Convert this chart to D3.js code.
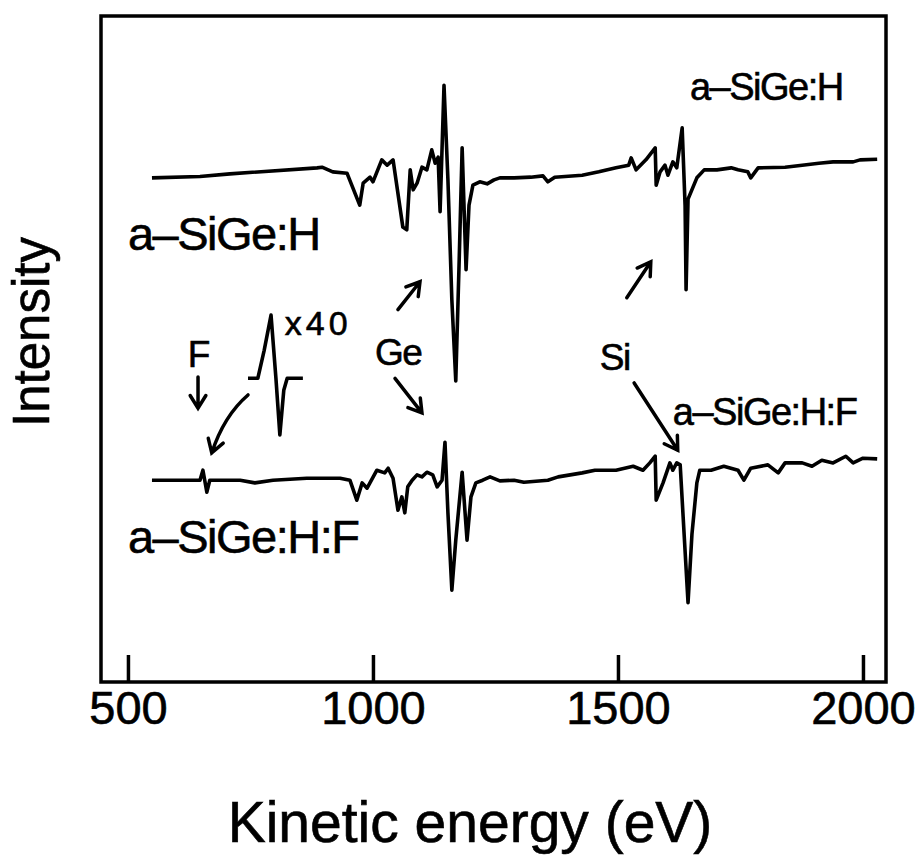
<!DOCTYPE html>
<html>
<head>
<meta charset="utf-8">
<script src="https://cdn.jsdelivr.net/npm/d3@7"></script>
<style>
    body { margin: 0; background: #fff; }
    svg text { font-family: "Liberation Sans", Arial, sans-serif; fill: #000; stroke: #000; stroke-width: 0.6px; }
</style>
</head>
<body>
<svg id="chart" width="920" height="857"></svg>
<script>
// a-SiGe:H trace, kinetic energy (eV) / intensity (a.u.)
let energy_h = [549, 647, 708, 886, 896, 918, 947, 973, 980, 994, 1000, 1018, 1029, 1041, 1061, 1069,
    1076, 1082, 1090, 1100, 1110, 1120, 1127, 1133, 1137, 1145, 1153, 1161, 1169, 1176, 1182, 1190,
    1196, 1204, 1218, 1233, 1247, 1259, 1288, 1322, 1347, 1357, 1371, 1427, 1461, 1496, 1522, 1527,
    1537, 1557, 1576, 1578, 1586, 1596, 1602, 1612, 1620, 1631, 1637, 1639, 1643, 1661, 1676, 1702,
    1731, 1745, 1765, 1771, 1786, 1841, 1876, 1910, 1939, 1980, 1994, 2029];
let intensity_h = [75.7, 75.9, 76.3, 77.2, 77.3, 76.6, 76.4, 71.6, 74.9, 75.8, 75.1, 78.4, 77.6, 78.4, 68.3, 67.9,
    76.9, 73.9, 74.9, 77.3, 76.9, 79.9, 77.9, 78.8, 70.6, 89.6, 75.4, 57.4, 45.2, 63.4, 80.2, 61.9,
    71.6, 74.6, 75.1, 74.8, 75.4, 75.7, 75.7, 75.8, 76.0, 75.1, 75.8, 76.1, 76.6, 77.2, 77.6, 78.7,
    76.9, 78.4, 80.2, 74.6, 76.6, 77.6, 76.1, 78.1, 77.2, 83.2, 71.5, 58.9, 72.5, 75.7, 76.9, 76.9,
    77.2, 76.9, 76.6, 75.7, 77.2, 77.3, 77.6, 77.9, 78.1, 78.1, 78.4, 78.5];
// a-SiGe:H:F trace
let energy_hf = [549, 647, 653, 661, 667, 729, 759, 796, 865, 933, 953, 967, 978, 988, 1008, 1024,
    1031, 1041, 1051, 1059, 1065, 1071, 1080, 1090, 1100, 1110, 1122, 1131, 1141, 1147, 1153, 1161,
    1169, 1182, 1192, 1200, 1210, 1224, 1239, 1259, 1288, 1308, 1357, 1378, 1427, 1453, 1496, 1531,
    1551, 1565, 1576, 1578, 1592, 1606, 1612, 1620, 1627, 1633, 1643, 1651, 1661, 1667, 1690, 1716,
    1745, 1757, 1771, 1806, 1827, 1841, 1876, 1896, 1916, 1939, 1965, 1980, 2000, 2029];
let intensity_hf = [30.3, 30.3, 31.8, 28.5, 30.3, 30.3, 29.9, 30.3, 30.6, 30.6, 30.3, 27.3, 29.9, 29.1, 31.8, 31.4,
    32.1, 30.6, 25.8, 27.8, 25.4, 29.3, 30.3, 31.1, 30.8, 31.5, 31.1, 29.3, 30.3, 36.0, 25.4, 13.8,
    21.3, 31.5, 21.3, 27.8, 29.9, 30.3, 30.8, 30.2, 30.3, 30.0, 30.3, 30.8, 31.4, 31.8, 31.8, 32.4,
    31.8, 32.9, 33.9, 27.3, 29.9, 32.9, 31.8, 32.9, 32.6, 24.8, 11.9, 22.2, 29.9, 31.8, 31.8, 32.4,
    31.8, 30.3, 32.1, 32.6, 31.4, 32.9, 32.9, 32.4, 33.3, 32.9, 33.9, 32.9, 33.6, 33.5];
// F signal magnified x40 (drawn in the empty space above the trace)
let inset_energy = [745, 765, 778, 792, 802, 810, 818, 825, 857];
let inset_intensity = [45.6, 45.6, 49.8, 55.1, 45.6, 37.1, 43.8, 45.6, 45.6];
let x_ticks = [500, 1000, 1500, 2000];

const frame = {left: 101, right: 886, top: 16, bottom: 682};

let svg = d3.select('svg#chart');

let x = d3.scaleLinear().domain([445, 2047]).range([frame.left, frame.right]);
let y = d3.scaleLinear().domain([0, 100]).range([frame.bottom, frame.top]);

let line = d3.line()
    .x(d => x(d[0]))
    .y(d => y(d[1]));

// frame
svg.append('rect')
    .attr('x', frame.left)
    .attr('y', frame.top)
    .attr('width', frame.right - frame.left)
    .attr('height', frame.bottom - frame.top)
    .style('fill', 'none')
    .style('stroke', '#000')
    .style('stroke-width', 3.5);

// bottom axis, ticks point inside
let xAxis = svg.append('g')
    .attr('transform', 'translate(0,' + frame.bottom + ')')
    .call(d3.axisBottom(x).tickValues(x_ticks).tickSize(-27).tickPadding(9).tickFormat(d3.format('d')));
xAxis.select('.domain').remove();
xAxis.selectAll('line').style('stroke', '#000').style('stroke-width', 3.5);
xAxis.selectAll('text')
    .style('font-size', '47px')
    .style('font-family', '"Liberation Sans", Arial, sans-serif')
    .style('stroke', '#000')
    .style('stroke-width', '0.6px');

svg.append('text')
    .attr('x', 470)
    .attr('y', 842)
    .attr('text-anchor', 'middle')
    .style('font-size', '57px')
    .text('Kinetic energy (eV)');

svg.append('text')
    .attr('transform', 'translate(49,332) rotate(-90)')
    .attr('text-anchor', 'middle')
    .style('font-size', '51px')
    .text('Intensity');

// spectra
let traces = [
    d3.zip(energy_h, intensity_h),
    d3.zip(energy_hf, intensity_hf),
    d3.zip(inset_energy, inset_intensity)
];
svg.append('g')
    .selectAll('path')
    .data(traces)
    .enter()
    .append('path')
    .attr('d', line)
    .style('fill', 'none')
    .style('stroke', '#000')
    .style('stroke-width', 3.6)
    .style('stroke-linejoin', 'round');

// arrows
let notes = svg.append('g')
    .style('fill', 'none')
    .style('stroke', '#000')
    .style('stroke-width', 3.5)
    .style('stroke-linecap', 'round');

function head(x1, y1, x2, y2) {
    let a = Math.atan2(y2 - y1, x2 - x1), len = 15, s = 0.55;
    return 'M' + (x2 - len * Math.cos(a - s)) + ',' + (y2 - len * Math.sin(a - s)) +
        'L' + x2 + ',' + y2 +
        'L' + (x2 - len * Math.cos(a + s)) + ',' + (y2 - len * Math.sin(a + s));
}
function arrow(e1, i1, e2, i2) {
    let x1 = x(e1), y1 = y(i1), x2 = x(e2), y2 = y(i2);
    notes.append('path').attr('d', 'M' + x1 + ',' + y1 + 'L' + x2 + ',' + y2 + head(x1, y1, x2, y2));
}
arrow(643, 45.8, 643, 41.1);     // F
arrow(1051, 55.9, 1096, 60.1);   // Ge -> upper
arrow(1045, 45.6, 1100, 40.4);   // Ge -> lower
arrow(1518, 57.7, 1567, 63.1);   // Si -> upper
arrow(1533, 44.9, 1622, 34.8);   // Si -> lower
// curved one from the x40 inset down to the F peak
let c0 = [x(745), y(43.1)], c1 = [x(696), y(40.0)], c2 = [x(671), y(34.4)];
notes.append('path')
    .attr('d', 'M' + c0 + 'Q' + c1 + ' ' + c2 + head(c1[0], c1[1], c2[0], c2[1]));

// labels
let labels = [
    {t: 'a\u2013SiGe:H', e: 1647, i: 87.4, size: 38},
    {t: 'a\u2013SiGe:H', e: 500, i: 64.9, size: 47},
    {t: 'a\u2013SiGe:H:F', e: 500, i: 19.4, size: 47},
    {t: 'a\u2013SiGe:H:F', e: 1612, i: 38.6, size: 38},
    {t: 'x40', e: 820, i: 52.1, size: 34},
    {t: 'Ge', e: 1004, i: 47.6, size: 37},
    {t: 'Si', e: 1463, i: 46.8, size: 37},
    {t: 'F', e: 622, i: 47.3, size: 37}
];
svg.append('g')
    .selectAll('text')
    .data(labels)
    .enter()
    .append('text')
    .attr('x', d => x(d.e))
    .attr('y', d => y(d.i))
    .style('font-size', d => d.size + 'px')
    .style('letter-spacing', d => d.t === 'x40' ? '4px' : '-1.5px')
    .text(d => d.t);
</script>
</body>
</html>
